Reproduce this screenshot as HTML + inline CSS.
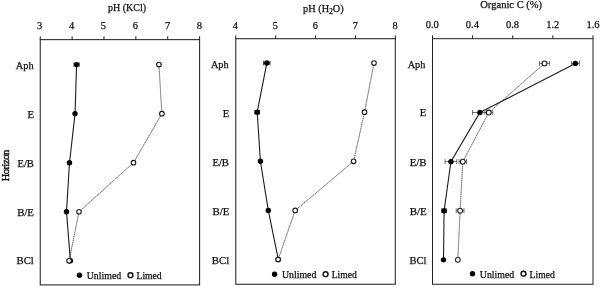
<!DOCTYPE html>
<html><head><meta charset="utf-8"><title>Soil profile chart</title>
<style>
html,body{margin:0;padding:0;background:#fff;}
svg{display:block;}
text{font-family:"Liberation Serif","Times New Roman",serif;font-size:10px;fill:#111;stroke:#111;stroke-width:0.25px;}
.d{font-size:10.5px;}
</style></head><body>
<svg width="600" height="287" viewBox="0 0 600 287">
<rect width="600" height="287" fill="#fff"/>
<text transform="translate(9.3,165.8) rotate(-90)" text-anchor="middle" style="font-size:10.4px;letter-spacing:-0.42px;stroke-width:0.4px">Horizon</text>
<rect x="40.25" y="39.65" width="159.35" height="245.25" fill="none" stroke="#222" stroke-width="1.05"/>
<line x1="40.25" y1="39.65" x2="40.25" y2="36.35" stroke="#1a1a1a" stroke-width="1"/>
<text style="font-size:10.5px" x="39.55" y="29.1" text-anchor="middle">3</text>
<line x1="72.12" y1="39.65" x2="72.12" y2="36.35" stroke="#1a1a1a" stroke-width="1"/>
<text style="font-size:10.5px" x="71.72" y="29.1" text-anchor="middle">4</text>
<line x1="103.99" y1="39.65" x2="103.99" y2="36.35" stroke="#1a1a1a" stroke-width="1"/>
<text style="font-size:10.5px" x="103.49" y="29.1" text-anchor="middle">5</text>
<line x1="135.86" y1="39.65" x2="135.86" y2="36.35" stroke="#1a1a1a" stroke-width="1"/>
<text style="font-size:10.5px" x="135.46" y="29.1" text-anchor="middle">6</text>
<line x1="167.73" y1="39.65" x2="167.73" y2="36.35" stroke="#1a1a1a" stroke-width="1"/>
<text style="font-size:10.5px" x="167.73" y="29.1" text-anchor="middle">7</text>
<line x1="199.60" y1="39.65" x2="199.60" y2="36.35" stroke="#1a1a1a" stroke-width="1"/>
<text style="font-size:10.5px" x="199.30" y="29.1" text-anchor="middle">8</text>
<text x="127" y="11" text-anchor="middle" class="t">pH (KCl)</text>
<text x="33.6" y="68.50" text-anchor="end" style="font-size:10.4px">Aph</text>
<text x="34.0" y="117.55" text-anchor="end" style="font-size:10.8px">E</text>
<text x="33.9" y="166.59" text-anchor="end" style="font-size:10.6px">E/B</text>
<text x="34.0" y="215.64" text-anchor="end" style="font-size:10.85px">B/E</text>
<text x="33.85" y="264.30" text-anchor="end" style="font-size:10.7px">BCl</text>
<polyline points="158.90,64.59 161.90,113.64 133.50,162.69 79.00,211.74 69.10,260.80" fill="none" stroke="#8a8a8a" stroke-width="0.6"/>
<polyline points="158.90,64.59 161.90,113.64 133.50,162.69 79.00,211.74 69.10,260.80" fill="none" stroke="#444" stroke-width="0.7" stroke-dasharray="1 1"/>
<polyline points="76.60,64.59 75.05,113.64 69.50,162.69 66.50,211.74 70.40,260.80" fill="none" stroke="#1c1c1c" stroke-width="1.1"/>
<path d="M74.05,64.59H79.15M74.05,62.34v4.5M79.15,62.34v4.5" stroke="#1a1a1a" stroke-width="0.85" fill="none"/>
<circle cx="76.60" cy="64.59" r="2.7" fill="#000"/>

<circle cx="75.05" cy="113.64" r="2.7" fill="#000"/>

<circle cx="69.50" cy="162.69" r="2.7" fill="#000"/>

<circle cx="66.50" cy="211.74" r="2.7" fill="#000"/>

<circle cx="70.40" cy="260.80" r="2.7" fill="#000"/>
<circle cx="158.90" cy="64.59" r="2.3" fill="#fff" stroke="#1a1a1a" stroke-width="1.1"/>
<circle cx="161.90" cy="113.64" r="2.3" fill="#fff" stroke="#1a1a1a" stroke-width="1.1"/>
<circle cx="133.50" cy="162.69" r="2.3" fill="#fff" stroke="#1a1a1a" stroke-width="1.1"/>
<circle cx="79.00" cy="211.74" r="2.3" fill="#fff" stroke="#1a1a1a" stroke-width="1.1"/>
<circle cx="69.10" cy="260.80" r="2.3" fill="#fff" stroke="#1a1a1a" stroke-width="1.1"/>
<circle cx="79.45" cy="275.2" r="2.7" fill="#000"/>
<text x="86.75" y="278.75" style="font-size:9.85px">Unlimed</text>
<circle cx="130.45" cy="275.2" r="2.45" fill="#fff" stroke="#111" stroke-width="1.4"/>
<text x="136.55" y="278.75" style="font-size:9.65px">Limed</text>

<rect x="235.8" y="38.7" width="159.50" height="245.55" fill="none" stroke="#222" stroke-width="1.05"/>
<line x1="235.80" y1="38.7" x2="235.80" y2="35.400000000000006" stroke="#1a1a1a" stroke-width="1"/>
<text style="font-size:10.25px" x="235.20" y="28.5" text-anchor="middle">4</text>
<line x1="275.68" y1="38.7" x2="275.68" y2="35.400000000000006" stroke="#1a1a1a" stroke-width="1"/>
<text style="font-size:10.25px" x="275.38" y="28.5" text-anchor="middle">5</text>
<line x1="315.55" y1="38.7" x2="315.55" y2="35.400000000000006" stroke="#1a1a1a" stroke-width="1"/>
<text style="font-size:10.25px" x="315.25" y="28.5" text-anchor="middle">6</text>
<line x1="355.43" y1="38.7" x2="355.43" y2="35.400000000000006" stroke="#1a1a1a" stroke-width="1"/>
<text style="font-size:10.25px" x="355.23" y="28.5" text-anchor="middle">7</text>
<line x1="395.30" y1="38.7" x2="395.30" y2="35.400000000000006" stroke="#1a1a1a" stroke-width="1"/>
<text style="font-size:10.25px" x="395.10" y="28.5" text-anchor="middle">8</text>
<text x="323.4" y="12.4" text-anchor="middle" class="t" style="font-size:10.3px">pH (H<tspan dy="1.8" style="font-size:7.3px">2</tspan><tspan dy="-1.8">O)</tspan></text>
<text x="228.55" y="67.50" text-anchor="end" style="font-size:10.2px">Aph</text>
<text x="229.2" y="116.61" text-anchor="end" style="font-size:10.7px">E</text>
<text x="228.9" y="165.73" text-anchor="end" style="font-size:10.6px">E/B</text>
<text x="229.4" y="214.83" text-anchor="end" style="font-size:10.8px">B/E</text>
<text x="229.15" y="263.94" text-anchor="end" style="font-size:10.75px">BCl</text>
<polyline points="374.00,63.05 364.50,112.16 353.60,161.28 295.20,210.38 278.10,259.50" fill="none" stroke="#8a8a8a" stroke-width="0.6"/>
<polyline points="374.00,63.05 364.50,112.16 353.60,161.28 295.20,210.38 278.10,259.50" fill="none" stroke="#444" stroke-width="0.7" stroke-dasharray="1 1"/>
<polyline points="266.80,63.05 257.20,112.16 260.40,161.28 268.30,210.38 278.30,259.50" fill="none" stroke="#1c1c1c" stroke-width="1.1"/>
<path d="M263.60,63.05H270.00M263.60,60.80v4.5M270.00,60.80v4.5" stroke="#1a1a1a" stroke-width="0.85" fill="none"/>
<circle cx="266.80" cy="63.05" r="2.7" fill="#000"/>
<path d="M254.90,112.16H259.50M254.90,109.91v4.5M259.50,109.91v4.5" stroke="#1a1a1a" stroke-width="0.85" fill="none"/>
<circle cx="257.20" cy="112.16" r="2.7" fill="#000"/>

<circle cx="260.40" cy="161.28" r="2.7" fill="#000"/>

<circle cx="268.30" cy="210.38" r="2.7" fill="#000"/>

<circle cx="278.30" cy="259.50" r="2.7" fill="#000"/>
<circle cx="374.00" cy="63.05" r="2.3" fill="#fff" stroke="#1a1a1a" stroke-width="1.1"/>
<circle cx="364.50" cy="112.16" r="2.3" fill="#fff" stroke="#1a1a1a" stroke-width="1.1"/>
<circle cx="353.60" cy="161.28" r="2.3" fill="#fff" stroke="#1a1a1a" stroke-width="1.1"/>
<circle cx="295.20" cy="210.38" r="2.3" fill="#fff" stroke="#1a1a1a" stroke-width="1.1"/>
<circle cx="278.10" cy="259.50" r="2.3" fill="#fff" stroke="#1a1a1a" stroke-width="1.1"/>
<circle cx="274.6" cy="274.2" r="2.7" fill="#000"/>
<text x="281.90" y="278.05" style="font-size:9.85px">Unlimed</text>
<circle cx="325.6" cy="274.2" r="2.45" fill="#fff" stroke="#111" stroke-width="1.4"/>
<text x="331.70" y="278.05" style="font-size:9.65px">Limed</text>

<rect x="432.5" y="38.7" width="160.50" height="245.55" fill="none" stroke="#222" stroke-width="1.0"/>
<line x1="432.50" y1="38.7" x2="432.50" y2="35.400000000000006" stroke="#1a1a1a" stroke-width="1"/>
<text style="font-size:10.5px" x="432.20" y="28.35" text-anchor="middle">0.0</text>
<line x1="472.62" y1="38.7" x2="472.62" y2="35.400000000000006" stroke="#1a1a1a" stroke-width="1"/>
<text style="font-size:10.5px" x="472.32" y="28.35" text-anchor="middle">0.4</text>
<line x1="512.75" y1="38.7" x2="512.75" y2="35.400000000000006" stroke="#1a1a1a" stroke-width="1"/>
<text style="font-size:10.5px" x="512.45" y="28.35" text-anchor="middle">0.8</text>
<line x1="552.88" y1="38.7" x2="552.88" y2="35.400000000000006" stroke="#1a1a1a" stroke-width="1"/>
<text style="font-size:10.5px" x="552.73" y="28.35" text-anchor="middle">1.2</text>
<line x1="593.00" y1="38.7" x2="593.00" y2="35.400000000000006" stroke="#1a1a1a" stroke-width="1"/>
<text style="font-size:10.5px" x="593.05" y="28.35" text-anchor="middle">1.6</text>
<text x="511.2" y="8.3" text-anchor="middle" class="t" style="font-size:10.55px">Organic C (%)</text>
<text x="425.3" y="67.56" text-anchor="end" style="font-size:10.2px">Aph</text>
<text x="426.35" y="116.42" text-anchor="end" style="font-size:10.8px">E</text>
<text x="426.5" y="165.53" text-anchor="end" style="font-size:10.85px">E/B</text>
<text x="426.8" y="214.63" text-anchor="end" style="font-size:11.0px">B/E</text>
<text x="426.35" y="263.74" text-anchor="end" style="font-size:10.5px">BCl</text>
<polyline points="544.50,63.41 488.80,112.52 462.80,161.63 460.10,210.73 457.85,259.84" fill="none" stroke="#8a8a8a" stroke-width="0.6"/>
<polyline points="544.50,63.41 488.80,112.52 462.80,161.63 460.10,210.73 457.85,259.84" fill="none" stroke="#444" stroke-width="0.7" stroke-dasharray="1 1"/>
<polyline points="575.40,63.41 479.90,112.52 450.90,161.63 444.10,210.73 443.50,259.84" fill="none" stroke="#1c1c1c" stroke-width="1.1"/>
<path d="M571.40,63.41H579.40M571.40,60.91v5.0M579.40,60.91v5.0" stroke="#333" stroke-width="0.7" fill="none"/>
<circle cx="575.40" cy="63.41" r="2.7" fill="#000"/>
<path d="M472.60,112.52H487.20M472.60,110.02v5.0M487.20,110.02v5.0" stroke="#333" stroke-width="0.7" fill="none"/>
<circle cx="479.90" cy="112.52" r="2.7" fill="#000"/>
<path d="M445.10,161.63H456.70M445.10,159.13v5.0M456.70,159.13v5.0" stroke="#333" stroke-width="0.7" fill="none"/>
<circle cx="450.90" cy="161.63" r="2.7" fill="#000"/>
<path d="M441.60,210.73H446.60M441.60,208.23v5.0M446.60,208.23v5.0" stroke="#333" stroke-width="0.7" fill="none"/>
<circle cx="444.10" cy="210.73" r="2.7" fill="#000"/>

<circle cx="443.50" cy="259.84" r="2.7" fill="#000"/>
<path d="M539.45,63.41H549.55M539.45,60.91v5.0M549.55,60.91v5.0" stroke="#333" stroke-width="0.7" fill="none"/>
<circle cx="544.50" cy="63.41" r="2.4" fill="#fff" stroke="#1a1a1a" stroke-width="1.05"/>
<path d="M484.90,112.52H492.70M484.90,110.02v5.0M492.70,110.02v5.0" stroke="#333" stroke-width="0.7" fill="none"/>
<circle cx="488.80" cy="112.52" r="2.4" fill="#fff" stroke="#1a1a1a" stroke-width="1.05"/>
<path d="M459.10,161.63H466.50M459.10,159.13v5.0M466.50,159.13v5.0" stroke="#333" stroke-width="0.7" fill="none"/>
<circle cx="462.80" cy="161.63" r="2.4" fill="#fff" stroke="#1a1a1a" stroke-width="1.05"/>
<path d="M456.20,210.73H464.00M456.20,208.23v5.0M464.00,208.23v5.0" stroke="#333" stroke-width="0.7" fill="none"/>
<circle cx="460.10" cy="210.73" r="2.4" fill="#fff" stroke="#1a1a1a" stroke-width="1.05"/>

<circle cx="457.85" cy="259.84" r="2.4" fill="#fff" stroke="#1a1a1a" stroke-width="1.05"/>
<circle cx="472.5" cy="273.7" r="2.7" fill="#000"/>
<text x="479.80" y="278.00" style="font-size:9.85px">Unlimed</text>
<circle cx="523.5" cy="273.7" r="2.45" fill="#fff" stroke="#111" stroke-width="1.4"/>
<text x="529.60" y="278.00" style="font-size:9.65px">Limed</text>

</svg>
</body></html>
